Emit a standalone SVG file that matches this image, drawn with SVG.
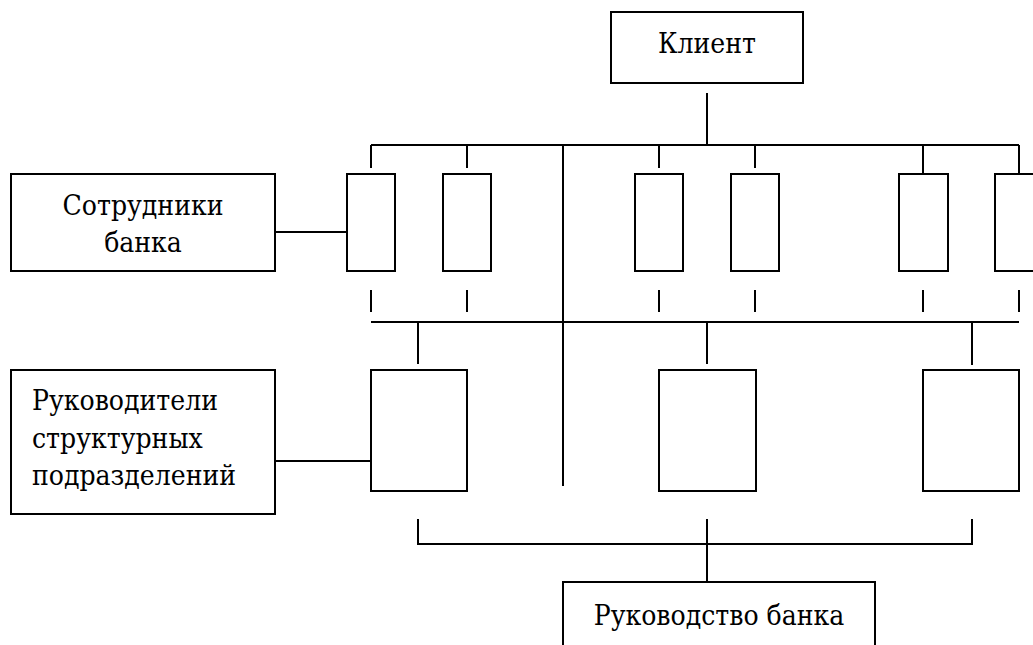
<svg xmlns="http://www.w3.org/2000/svg" width="1033" height="645" viewBox="0 0 1033 645">
<style>
.b{fill:#fff;stroke:#000;stroke-width:2}
.l{stroke:#000;stroke-width:2;fill:none}
.t{font-family:'DejaVu Serif Condensed','DejaVu Serif',serif;font-stretch:condensed;font-size:28px;fill:#000}
</style>
<rect width="1033" height="645" fill="#fff"/>
<g id="connectors">
<path class="l" d="M707 93V145M371 145H1019M371 145V168M467 145V168M659 145V168M755 145V168M923 145V174M1019 145V174M563 145V486"/>
<path class="l" d="M371 290V312M467 290V312M659 290V312M755 290V312M923 290V312M1019 290V312M371 322H1019M418 322V364M707 322V364M972 322V365"/>
<path class="l" d="M275 232H347M275 461H371"/>
<path class="l" d="M418 519V544H972V519M707 519V582"/>
</g>
<g id="klient"><rect class="b" x="611" y="12" width="192" height="71"/><text class="t" x="707" y="53" text-anchor="middle">Клиент</text></g>
<g id="sotrudniki"><rect class="b" x="11" y="174" width="264" height="97"/><text class="t" x="143" y="215" text-anchor="middle">Сотрудники</text><text class="t" x="143" y="252" text-anchor="middle">банка</text></g>
<g id="s1"><rect class="b" x="347" y="174" width="48" height="97"/></g>
<g id="s2"><rect class="b" x="443" y="174" width="48" height="97"/></g>
<g id="s3"><rect class="b" x="635" y="174" width="48" height="97"/></g>
<g id="s4"><rect class="b" x="731" y="174" width="48" height="97"/></g>
<g id="s5"><rect class="b" x="899" y="174" width="49" height="97"/></g>
<g id="s6"><rect class="b" x="995" y="174" width="60" height="97"/></g>
<g id="rukovoditeli"><rect class="b" x="11" y="370" width="264" height="144"/><text class="t" x="32" y="410">Руководители</text><text class="t" x="32" y="448">структурных</text><text class="t" x="32" y="485">подразделений</text></g>
<g id="d1"><rect class="b" x="371" y="370" width="96" height="121"/></g>
<g id="d2"><rect class="b" x="659" y="370" width="97" height="121"/></g>
<g id="d3"><rect class="b" x="923" y="370" width="96" height="121"/></g>
<g id="rukovodstvo"><rect class="b" x="563" y="582" width="312" height="80"/><text class="t" x="719" y="625" text-anchor="middle">Руководство банка</text></g>
</svg>
